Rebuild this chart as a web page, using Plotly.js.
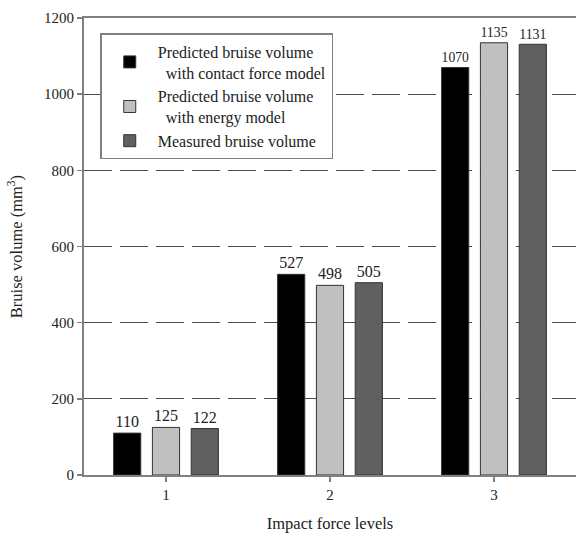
<!DOCTYPE html>
<html>
<head>
<meta charset="utf-8">
<script src="https://cdn.plot.ly/plotly-3.0.1.min.js"></script>
<style>html,body{margin:0;padding:0;background:#fff;}#chart{width:576px;height:533px;}</style>
</head>
<body>
<div id="chart"></div>
<script>
const categories = [1, 2, 3];
const tickLabels = ["1", "2", "3"];
const contactForceModel = [110, 527, 1070];
const energyModel = [125, 498, 1135];
const measured = [122, 505, 1131];
const seriesNames = [
  "Predicted bruise volume<br>\u00a0\u00a0with contact force model",
  "Predicted bruise volume<br>\u00a0\u00a0with energy model",
  "Measured bruise volume"
];
const seriesColors = ["#000000", "#c0c0c0", "#606060"];
const seriesValues = [contactForceModel, energyModel, measured];

const fam = "Liberation Serif, Times New Roman, serif";
const font = {family: fam, size: 16, color: "#222"};
const tickFont = {family: fam, size: 15, color: "#222"};
const titleFont = {family: fam, size: 16.5, color: "#222"};

const traces = seriesValues.map((vals, i) => ({
  type: "bar",
  x: categories,
  y: vals,
  name: seriesNames[i],
  marker: {color: seriesColors[i], line: {color: "#333", width: 1}},
  text: vals.map(String),
  textposition: "outside",
  textfont: font,
  cliponaxis: false,
  hoverinfo: "none"
}));

const layout = {
  width: 576,
  height: 533,
  margin: {l: 84, r: 0, t: 18, b: 58},
  paper_bgcolor: "#fff",
  plot_bgcolor: "#fff",
  font: font,
  barmode: "group",
  bargap: 0.29,
  bargroupgap: 0.3,
  showlegend: true,
  legend: {
    x: 0.033, y: 0.967, xanchor: "left", yanchor: "top",
    bgcolor: "#fff", bordercolor: "#808080", borderwidth: 1.5,
    font: font, tracegroupgap: 4, itemwidth: 46
  },
  xaxis: {
    range: [0.5, 3.5],
    tickvals: categories,
    ticktext: tickLabels,
    showline: true, linecolor: "#808080", linewidth: 2, mirror: true,
    ticks: "outside", ticklen: 5, tickcolor: "#808080", tickwidth: 1.5,
    showgrid: false, zeroline: false,
    tickfont: tickFont,
    title: {text: "Impact force levels", font: titleFont, standoff: 18}
  },
  yaxis: {
    range: [0, 1200],
    tickvals: [0, 200, 400, 600, 800, 1000, 1200],
    showline: true, linecolor: "#808080", linewidth: 2,
    ticks: "outside", ticklen: 5, tickcolor: "#808080", tickwidth: 1.5,
    showgrid: true, gridcolor: "#4d4d4d", gridwidth: 1.3, griddash: "28px,8px",
    zeroline: false,
    tickfont: tickFont,
    title: {text: "Bruise volume (mm<sup>3</sup>)", font: titleFont, standoff: 17}
  }
};

Plotly.newPlot("chart", traces, layout, {displayModeBar: false, staticPlot: true});
</script>
</body>
</html>
